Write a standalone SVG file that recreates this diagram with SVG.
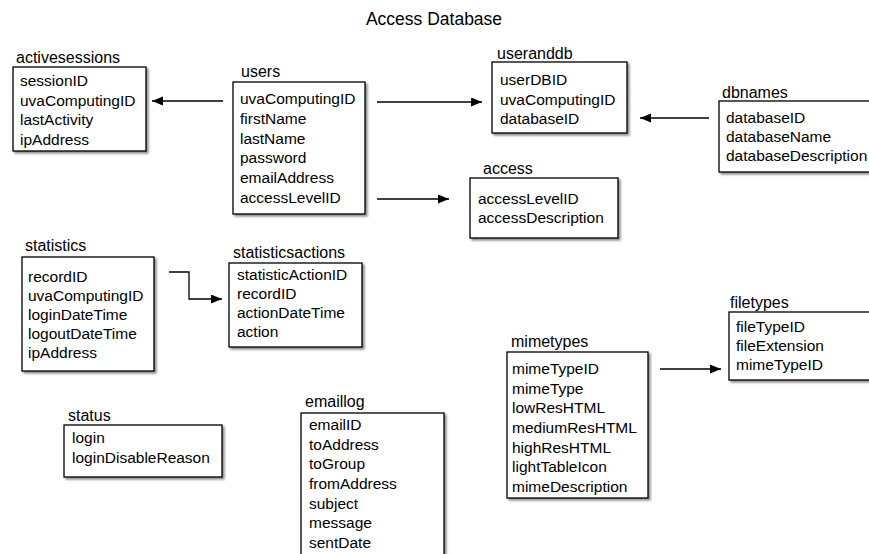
<svg xmlns="http://www.w3.org/2000/svg" width="869" height="554" viewBox="0 0 869 554">
<style>
text{font-family:"Liberation Sans",Arial,sans-serif;fill:#000}
.t{font-size:17.5px}
.lbl{font-size:16px}
.f{font-size:15.5px}
.box{fill:#fff;stroke:#000;stroke-width:1.3;filter:url(#sh)}
.c{fill:none;stroke:#000;stroke-width:1.3;marker-end:url(#ah)}
</style>
<defs>
<filter id="sh" x="-10%" y="-10%" width="130%" height="130%">
<feDropShadow dx="2" dy="2" stdDeviation="1.2" flood-color="#000" flood-opacity="0.45"/>
</filter>
<marker id="ah" markerUnits="userSpaceOnUse" markerWidth="12" markerHeight="10" refX="11" refY="4.5" orient="auto">
<path d="M0,0 L11,4.5 L0,9 z" fill="#000"/>
</marker>
</defs>
<rect width="869" height="554" fill="#fff"/>
<text class="t" x="434" y="25" text-anchor="middle">Access Database</text>

<g id="connectors">
<path class="c" d="M223,101 H152"/>
<path class="c" d="M377,102 H482"/>
<path class="c" d="M709,118 H640"/>
<path class="c" d="M377,199 H449"/>
<path class="c" d="M169,272 H189 V299 H222"/>
<path class="c" d="M660,369 H721"/>
</g>

<g id="activesessions">
<text class="lbl" x="16" y="63">activesessions</text>
<rect class="box" x="13" y="67" width="133" height="84"/>
<text class="f" x="20" y="86">sessionID</text>
<text class="f" x="20" y="105.5">uvaComputingID</text>
<text class="f" x="20" y="125">lastActivity</text>
<text class="f" x="20" y="144.5">ipAddress</text>
</g>

<g id="users">
<text class="lbl" x="241" y="77">users</text>
<rect class="box" x="233" y="82" width="132" height="132"/>
<text class="f" x="240" y="104">uvaComputingID</text>
<text class="f" x="240" y="123.8">firstName</text>
<text class="f" x="240" y="143.6">lastName</text>
<text class="f" x="240" y="163.4">password</text>
<text class="f" x="240" y="183.2">emailAddress</text>
<text class="f" x="240" y="203">accessLevelID</text>
</g>

<g id="useranddb">
<text class="lbl" x="497" y="59">useranddb</text>
<rect class="box" x="492" y="62" width="135" height="71"/>
<text class="f" x="500" y="84.5">userDBID</text>
<text class="f" x="500" y="104.5">uvaComputingID</text>
<text class="f" x="500" y="124">databaseID</text>
</g>

<g id="dbnames">
<text class="lbl" x="722" y="98">dbnames</text>
<rect class="box" x="719" y="101" width="165" height="71"/>
<text class="f" x="726" y="123">databaseID</text>
<text class="f" x="726" y="142">databaseName</text>
<text class="f" x="726" y="161">databaseDescription</text>
</g>

<g id="access">
<text class="lbl" x="483" y="174">access</text>
<rect class="box" x="470" y="178" width="148" height="60"/>
<text class="f" x="478" y="204">accessLevelID</text>
<text class="f" x="478" y="223">accessDescription</text>
</g>

<g id="statistics">
<text class="lbl" x="25" y="251">statistics</text>
<rect class="box" x="22" y="257" width="132" height="114"/>
<text class="f" x="28" y="282">recordID</text>
<text class="f" x="28" y="301">uvaComputingID</text>
<text class="f" x="28" y="320">loginDateTime</text>
<text class="f" x="28" y="339">logoutDateTime</text>
<text class="f" x="28" y="358">ipAddress</text>
</g>

<g id="statisticsactions">
<text class="lbl" x="233" y="258">statisticsactions</text>
<rect class="box" x="229" y="263" width="133" height="84"/>
<text class="f" x="237" y="280">statisticActionID</text>
<text class="f" x="237" y="299">recordID</text>
<text class="f" x="237" y="318">actionDateTime</text>
<text class="f" x="237" y="337">action</text>
</g>

<g id="filetypes">
<text class="lbl" x="730" y="308">filetypes</text>
<rect class="box" x="729" y="312" width="155" height="68"/>
<text class="f" x="736" y="332">fileTypeID</text>
<text class="f" x="736" y="351">fileExtension</text>
<text class="f" x="736" y="370">mimeTypeID</text>
</g>

<g id="mimetypes">
<text class="lbl" x="511" y="347">mimetypes</text>
<rect class="box" x="507" y="352" width="141" height="146"/>
<text class="f" x="512" y="374">mimeTypeID</text>
<text class="f" x="512" y="393.7">mimeType</text>
<text class="f" x="512" y="413.3">lowResHTML</text>
<text class="f" x="512" y="433">mediumResHTML</text>
<text class="f" x="512" y="452.7">highResHTML</text>
<text class="f" x="512" y="472.3">lightTableIcon</text>
<text class="f" x="512" y="492">mimeDescription</text>
</g>

<g id="status">
<text class="lbl" x="68" y="421">status</text>
<rect class="box" x="64" y="425" width="158" height="52"/>
<text class="f" x="72" y="443">login</text>
<text class="f" x="72" y="463">loginDisableReason</text>
</g>

<g id="emaillog">
<text class="lbl" x="305" y="407">emaillog</text>
<rect class="box" x="301" y="413" width="143" height="160"/>
<text class="f" x="309" y="430">emailID</text>
<text class="f" x="309" y="449.7">toAddress</text>
<text class="f" x="309" y="469.3">toGroup</text>
<text class="f" x="309" y="489">fromAddress</text>
<text class="f" x="309" y="508.7">subject</text>
<text class="f" x="309" y="528.3">message</text>
<text class="f" x="309" y="548">sentDate</text>
</g>
</svg>
